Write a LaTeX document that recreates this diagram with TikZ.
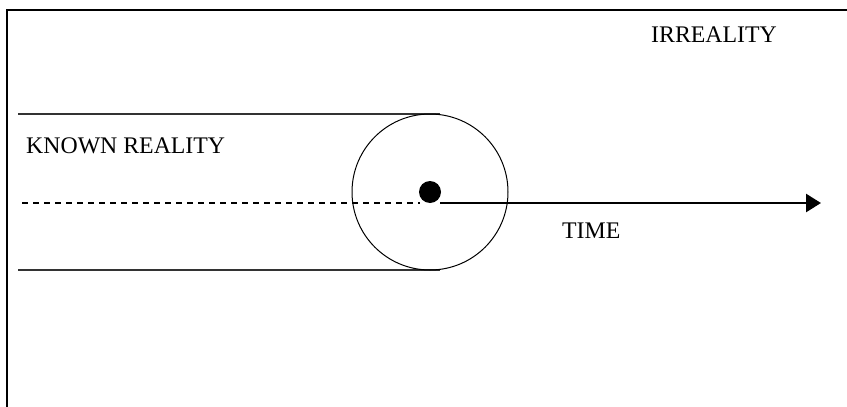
\documentclass[tikz,border=0pt]{standalone}
\usepackage{fontspec}
\setmainfont{Liberation Serif}
\usetikzlibrary{positioning, arrows.meta}

\begin{document}
\begin{tikzpicture}[x=1pt,y=-1pt,
  label/.style={inner sep=0pt, anchor=base west, font=\fontsize{23.8}{28}\selectfont},
  frame/.style={line width=1.3pt},
  edge/.style={line width=1.2pt, draw=black!80},
  timearr/.style={line width=2.6pt, -{Triangle[length=15pt, width=18pt]}}]
  \useasboundingbox (0,0) rectangle (847,407);

  % outer frame (only top and left sides visible)
  \draw[frame] (7,407) -- (7,10) -- (847,10);
  \node[label] (irreal) at (651,42) {IRREALITY};

  % known reality band
  \coordinate (tl) at (18,114);
  \coordinate (tr) at (440,114);
  \coordinate (bl) at (18,270);
  \coordinate (br) at (440,270);
  \draw[edge] (tl) -- (tr);
  \draw[edge] (bl) -- (br);
  \node[label] (known) at (26,153) {KNOWN REALITY};

  % present moment
  \node[draw, circle, line width=1pt, minimum size=156pt, inner sep=0pt] (now) at (430,192) {};
  \node[fill, circle, minimum size=22pt, inner sep=0pt] (dot) at (430,192) {};

  % past (dashed) and future (arrow)
  \coordinate (past) at (22,203);
  \coordinate (pastend) at (420,203);
  \coordinate (future) at (440,203);
  \coordinate (tip) at (821,203);
  \draw[line width=1.4pt, dash pattern=on 6pt off 5pt] (past) -- (pastend);
  \draw[timearr] (future) -- (tip);
  \node[label] (time) at (562,238) {TIME};
\end{tikzpicture}
\end{document}
